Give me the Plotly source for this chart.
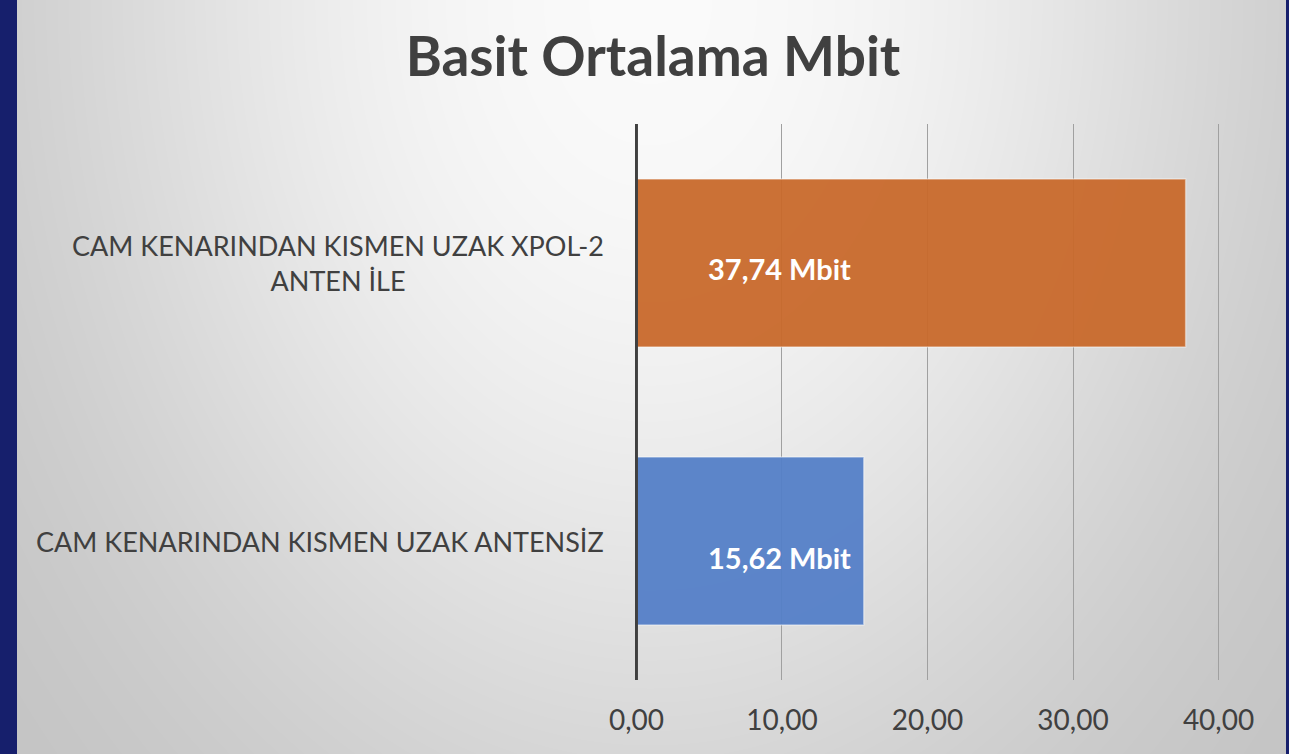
import numpy as np, zlib, struct, base64
import plotly.graph_objects as go

# ---- data ----
categories = ["CAM KENARINDAN KISMEN UZAK ANTENSİZ",
              "CAM KENARINDAN KISMEN UZAK XPOL-2<br>ANTEN İLE"]
values = [15.62, 37.74]
value_labels = ["15,62 Mbit", "37,74 Mbit"]
bar_colors = ["#5580c8", "#c96a2c"]
tick_vals = [0, 10, 20, 30, 40]
tick_text = ["0,00", "10,00", "20,00", "30,00", "40,00"]
title = "Basit Ortalama Mbit"

# ---- layout geometry ----
W, H = 1289, 754
ML, MR, MT, MB = 635, 69, 124, 74
PW, PH = W - ML - MR, H - MT - MB

# ---- background gradient image ----
yy, xx = np.mgrid[0:H, 0:W]
r2 = ((xx - 650) / 663.0) ** 2 + ((yy - 0) / 900.0) ** 2
v = np.round(250 - 58 * np.tanh(r2)).astype(np.uint8)
raw = b"".join(b"\x00" + v[i].tobytes() for i in range(H))
def chunk(t, d):
    c = struct.pack(">I", len(d)) + t + d
    return c + struct.pack(">I", zlib.crc32(t + d) & 0xffffffff)
png = (b"\x89PNG\r\n\x1a\n" + chunk(b"IHDR", struct.pack(">IIBBBBB", W, H, 8, 0, 0, 0, 0))
       + chunk(b"IDAT", zlib.compress(raw, 9)) + chunk(b"IEND", b""))
bg_uri = "data:image/png;base64," + base64.b64encode(png).decode()

def px_x(p):
    return (p - ML) / PW
def px_y(p):
    return 1 - (p - MT) / PH

fig = go.Figure()
fig.add_trace(go.Bar(
    y=categories, x=values, orientation="h",
    marker=dict(color=bar_colors, opacity=0.95,
                line=dict(color="rgba(255,255,255,0.45)", width=1.5)),
    hoverinfo="skip", showlegend=False,
))

annotations = []
# category labels (centered multi-line, right-anchored)
for c in categories:
    annotations.append(dict(
        xref="paper", yref="y", x=px_x(606), y=c, xanchor="right", yanchor="middle",
        text=c, showarrow=False, align="center",
        font=dict(family="Lato", size=27, color="#404040")))
# value labels
label_shift = [-16, -5]
for c, lab, ys in zip(categories, value_labels, label_shift):
    annotations.append(dict(
        xref="x", yref="y", x=14.9, y=c, xanchor="right", yanchor="middle",
        yshift=ys, text=lab, showarrow=False,
        font=dict(family="Lato", size=29, color="white", weight=700)))

shapes = [
    # value axis zero line
    dict(type="line", xref="x", yref="paper", x0=0, x1=0, y0=0, y1=1,
         line=dict(color="#404040", width=3), layer="above"),
    # navy side bands
    dict(type="rect", xref="paper", yref="paper", x0=px_x(0), x1=px_x(17),
         y0=px_y(H), y1=px_y(0), fillcolor="#161f6c", line=dict(width=0), layer="above"),
    dict(type="rect", xref="paper", yref="paper", x0=px_x(1286), x1=px_x(W),
         y0=px_y(H), y1=px_y(0), fillcolor="#161f6c", line=dict(width=0), layer="above"),
]

fig.update_layout(
    width=W, height=H,
    margin=dict(l=ML, r=MR, t=MT, b=MB),
    paper_bgcolor="#dcdcdc", plot_bgcolor="rgba(0,0,0,0)",
    title=dict(text=title, x=653 / W, xanchor="center", y=1 - 57 / H, yanchor="middle",
               font=dict(family="Lato", size=55, color="#404040", weight=700)),
    bargap=0.396,
    xaxis=dict(range=[-0.1, 40.1], tickvals=tick_vals, ticktext=tick_text,
               showgrid=True, gridcolor="#a0a0a0", gridwidth=1.3, zeroline=False,
               showline=False, ticks="", ticklabelstandoff=21,
               tickfont=dict(family="Lato", size=28, color="#404040")),
    yaxis=dict(range=[-0.5, 1.5], showticklabels=False, showgrid=False,
               zeroline=False, showline=False, ticks=""),
    annotations=annotations,
    shapes=shapes,
    images=[dict(source=bg_uri, xref="paper", yref="paper", x=px_x(0), y=px_y(0),
                 sizex=W / PW, sizey=H / PH, sizing="stretch", layer="below",
                 xanchor="left", yanchor="top")],
)

fig.write_html("out.html", config={"displayModeBar": False},
               post_script="document.body.style.margin='0px';")
